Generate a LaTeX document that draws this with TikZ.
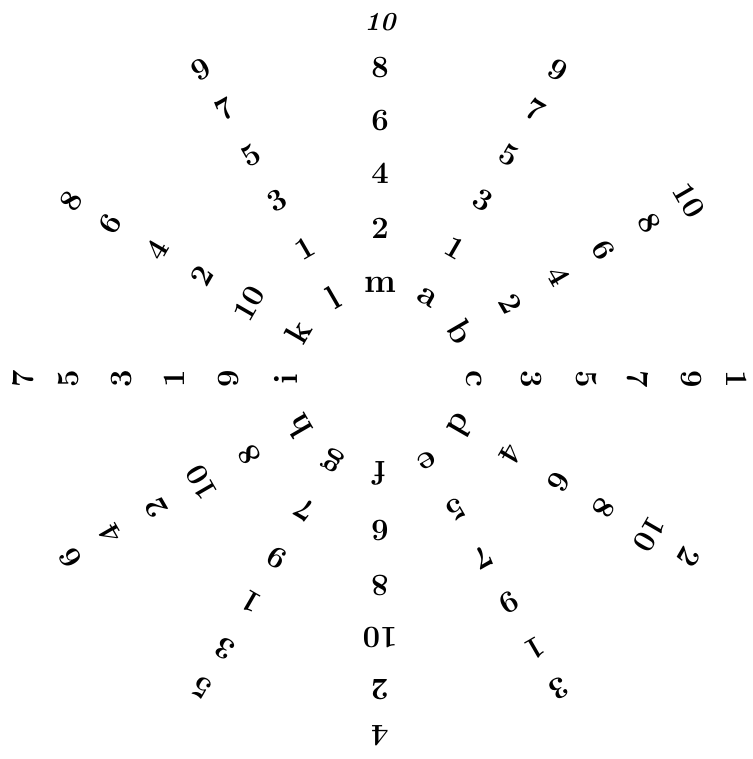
\documentclass[tikz,border=0pt]{standalone}
\newcommand{\topten}{{\fontsize{26}{26}\selectfont\bfseries\itshape 10}}
\begin{document}
\begin{tikzpicture}[x=1pt,y=1pt,
  glyph/.style={font=\fontsize{31}{31}\selectfont\bfseries, inner sep=0pt, anchor=center},
  letterglyph/.style={font=\fontsize{34}{34}\selectfont\bfseries, inner sep=0pt, anchor=center}]
\useasboundingbox (0,0) rectangle (752,759);
\begin{scope}[shift={(380,380)}]
\coordinate (O) at (0,0);
% ring of letters
\foreach \ang/\lt in {90/m,60/a,30/b,0/c,-30/d,-60/e,-90/f,-120/g,-150/h,180/i,150/k,120/l}
  \node[letterglyph, rotate=\ang-90] (L\lt) at (\ang:94pt) {\lt};
% rays of numbers
\foreach \ang/\rn/\seq in {90/m/{2,4,6,8,\topten},
                          60/a/{1,3,5,7,9},
                          30/b/{2,4,6,8,10},
                          0/c/{3,5,7,9,1},
                          -30/d/{4,6,8,10,2},
                          -60/e/{5,7,9,1,3},
                          -90/f/{6,8,10,2,4},
                          -120/g/{7,9,1,3,5},
                          -150/h/{8,10,2,4,6},
                          180/i/{9,1,3,5,7},
                          150/k/{10,2,4,6,8},
                          120/l/{1,3,5,7,9}}
{
  \foreach \n [count=\k] in \seq {
    \pgfmathsetmacro{\rr}{{151,206,258,311,357}[\k-1]}
    \node[glyph, rotate=\ang-90] (N\rn\k) at (\ang:\rr pt) {\n};
  }
}
\end{scope}
\end{tikzpicture}
\end{document}
